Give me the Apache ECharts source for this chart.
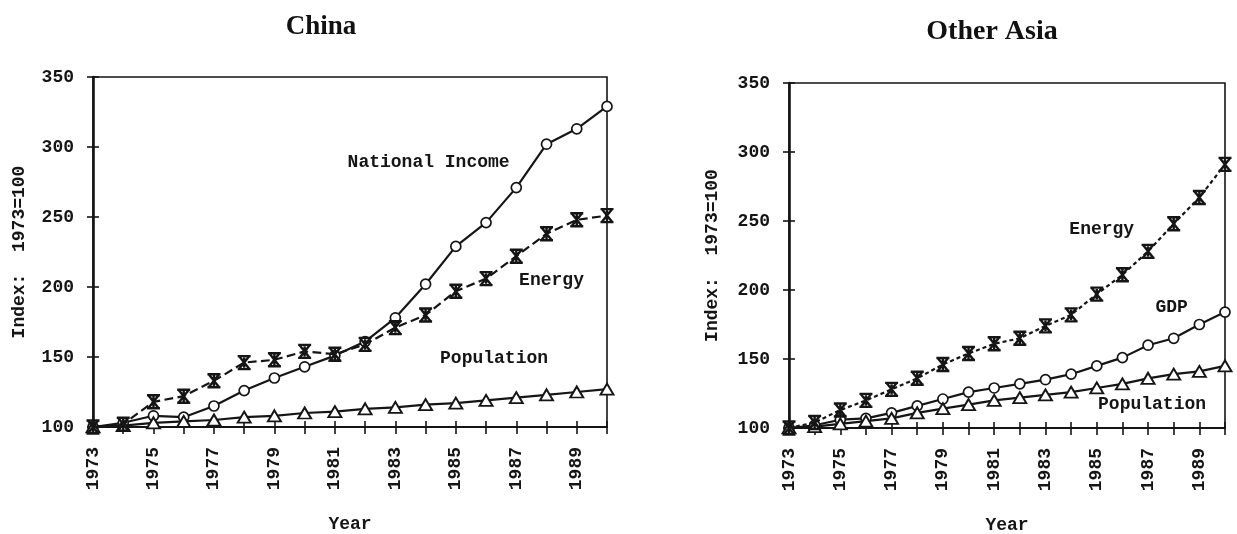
<!DOCTYPE html>
<html>
<head>
<meta charset="utf-8">
<script src="https://cdn.jsdelivr.net/npm/echarts@6/dist/echarts.min.js"></script>
<style>html,body{margin:0;padding:0;background:#fff;}#c{width:1237px;height:534px;}</style>
</head>
<body>
<div id="c"></div>
<script>
const years = ['1973','1974','1975','1976','1977','1978','1979','1980','1981','1982','1983','1984','1985','1986','1987','1988','1989','1990'];
const chinaIncome = [100,103,108,107,115,126,135,143,151,161,178,202,229,246,271,302,313,329];
const chinaEnergy = [100,102,118,122,133,146,148,154,152,159,171,180,197,206,222,238,248,251];
const chinaPop    = [100,101,103,104,105,107,108,110,111,113,114,116,117,119,121,123,125,127];
const asiaEnergy  = [100,104,113,120,128,136,146,154,161,165,174,182,197,211,228,248,267,291];
const asiaGDP     = [100,102,106,107,111,116,121,126,129,132,135,139,145,151,160,165,175,184];
const asiaPop     = [100,101,103,105,107,111,114,117,120,122,124,126,129,132,136,139,141,145];
const yTicks = [100,150,200,250,300,350];

const MONO = "'Liberation Mono', 'DejaVu Sans Mono', monospace";
const INK = '#151515';
const starPath = 'path://M0,0 L10,0 M0,10 L10,10 M1,0 L9,10 M9,0 L1,10 M5,1 L5,9';

function grid(left, right, top, bottom){
  return {left, right, top, bottom, show:true, borderColor:INK, borderWidth:1.6,
    backgroundColor:'transparent', containLabel:false, outerBoundsMode:'none'};
}
function xAxes(gi){
  return [{
    type:'category', gridIndex:gi, data:years, boundaryGap:false, position:'bottom',
    name:'Year', nameLocation:'middle', nameGap:88,
    nameTextStyle:{fontFamily:MONO, fontSize:18, fontWeight:'bold', color:INK},
    axisLine:{lineStyle:{color:INK, width:2.2}},
    axisTick:{interval:0, length:7, lineStyle:{color:INK, width:1.6}},
    axisLabel:{interval:1, rotate:90, fontFamily:MONO, fontSize:18, fontWeight:'bold', color:INK, margin:20}
  },{
    type:'category', gridIndex:gi, data:years, boundaryGap:false, position:'bottom',
    axisLine:{show:false},
    axisTick:{interval:0, inside:true, length:6, lineStyle:{color:INK, width:1.6}},
    axisLabel:{show:false}
  }];
}
function yAxes(gi, gap){
  return [{
    type:'value', gridIndex:gi, min:100, max:350, interval:50, position:'left',
    name:'Index:  1973=100', nameLocation:'middle', nameGap:gap, nameRotate:90,
    nameTextStyle:{fontFamily:MONO, fontSize:18, fontWeight:'bold', color:INK},
    splitLine:{show:false},
    axisLine:{show:true, lineStyle:{color:INK, width:2.6}},
    axisTick:{show:true, length:6, lineStyle:{color:INK, width:1.6}},
    axisLabel:{fontFamily:MONO, fontSize:18, fontWeight:'bold', color:INK, margin:19,
      formatter: v => yTicks.indexOf(v) >= 0 ? String(v) : ''}
  },{
    type:'value', gridIndex:gi, min:100, max:350, interval:50, position:'left',
    splitLine:{show:false}, axisLine:{show:false},
    axisTick:{show:true, inside:true, length:6, lineStyle:{color:INK, width:1.6}},
    axisLabel:{show:false}
  }];
}
function textMark(text, x, y, dx){
  return {symbol:'rect', symbolSize:1, silent:true, animation:false,
    itemStyle:{color:'rgba(0,0,0,0)'},
    label:{show:true, formatter:text, fontFamily:MONO, fontSize:18, fontWeight:'bold', color:INK,
      position:'inside', offset:[dx || 0, 0]},
    data:[{coord:[x, y]}]};
}
function circleSeries(xi, yi, data, label){
  return {type:'line', xAxisIndex:xi, yAxisIndex:yi, data, symbol:'circle', symbolSize:10,
    itemStyle:{color:'#fff', borderColor:INK, borderWidth:1.7},
    lineStyle:{color:INK, width:2.2}, z:3, animation:false, markPoint: label};
}
function triSeries(xi, yi, data, label){
  return {type:'line', xAxisIndex:xi, yAxisIndex:yi, data, symbol:'triangle', symbolSize:[13,11],
    itemStyle:{color:'#fff', borderColor:INK, borderWidth:1.9},
    lineStyle:{color:INK, width:2.2}, z:3, animation:false, markPoint: label};
}
function starSeries(xi, yi, data, label, dash){
  return {type:'line', xAxisIndex:xi, yAxisIndex:yi, data, symbol:starPath, symbolSize:[13,13],
    itemStyle:{color:'none', borderColor:INK, borderWidth:2.4},
    lineStyle:{color:INK, width:2.2, type:dash}, z:4, animation:false, markPoint: label};
}

const chart = echarts.init(document.getElementById('c'), null, {renderer:'canvas'});
chart.setOption({
  animation:false,
  title:[
    {text:'China', left:316, top:9, textAlign:'center', textStyle:{fontFamily:"'Liberation Serif', serif", fontWeight:'bold', fontSize:27, color:'#111'}},
    {text:'Other Asia', left:987, top:13, textAlign:'center', textStyle:{fontFamily:"'Liberation Serif', serif", fontWeight:'bold', fontSize:28, color:'#111'}}
  ],
  grid:[grid(93, 630, 77, 107), grid(789, 12, 83, 106)],
  xAxis:[...xAxes(0), ...xAxes(1)],
  yAxis:[...yAxes(0, 65), ...yAxes(1, 68)],
  series:[
    circleSeries(0,0,chinaIncome, textMark('National Income','1984',289, 3)),
    starSeries(0,0,chinaEnergy, textMark('Energy','1988',205, 5), 'dashed'),
    triSeries(0,0,chinaPop, textMark('Population','1986',149, 8)),
    starSeries(2,2,asiaEnergy, textMark('Energy','1985',244, 5), [4,3]),
    circleSeries(2,2,asiaGDP, textMark('GDP','1988',187, -2)),
    triSeries(2,2,asiaPop, textMark('Population','1987',117, 4))
  ]
});
</script>
</body>
</html>
